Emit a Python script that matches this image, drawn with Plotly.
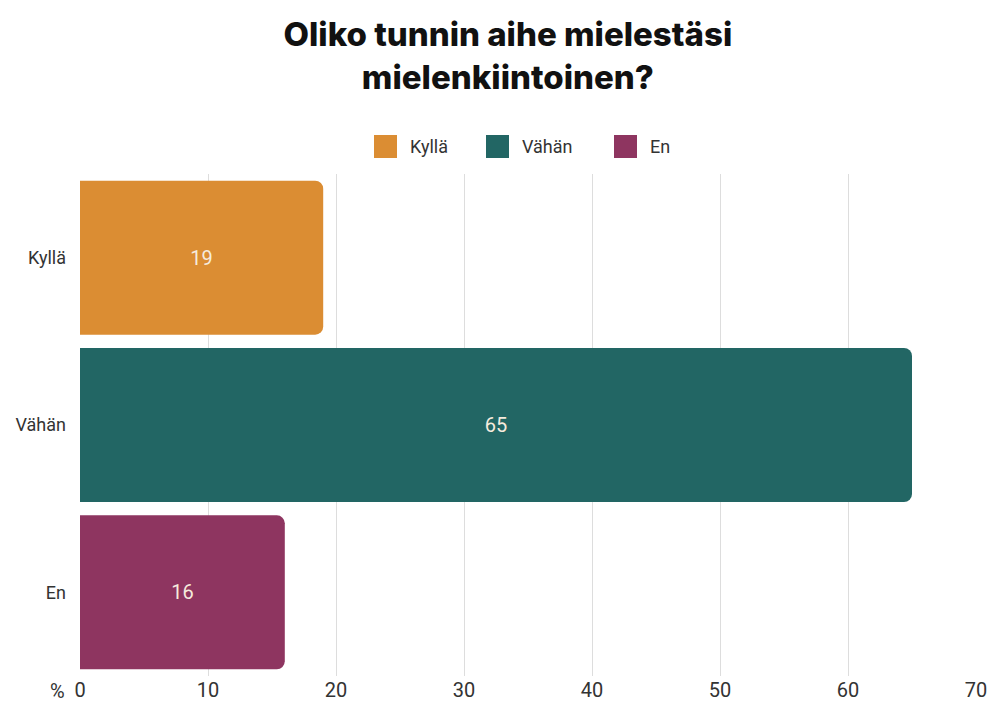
import plotly.graph_objects as go

# ---------- Data ----------
kategoriat = ["Kyllä", "Vähän", "En"]
prosentit = [19, 65, 16]
varit = ["#DB8D33", "#226664", "#8E3560"]
x_tikit = [0, 10, 20, 30, 40, 50, 60, 70]

W, H = 990, 702
L, R, T, B = 80, 14, 174, 26

def px_x(p):
    return (p - L) / (W - L - R)

def px_y(p):
    return (H - B - p) / (H - T - B)

fig = go.Figure()
for nimi, arvo, vari in zip(kategoriat, prosentit, varit):
    fig.add_trace(go.Bar(
        x=[arvo], y=[nimi], orientation="h", name=nimi,
        marker=dict(color=vari, line=dict(width=0)),
        text=[str(arvo)], textposition="inside", insidetextanchor="middle",
        textfont=dict(family="Roboto", size=20, color="#F6EBDD"),
        showlegend=False, hoverinfo="x+y",
    ))

# legend drawn by hand (bigger swatches than plotly's)
swatch_x = [374, 486, 614]
for nimi, vari, sx in zip(kategoriat, varit, swatch_x):
    fig.add_shape(type="rect", xref="paper", yref="paper",
                  x0=px_x(sx), x1=px_x(sx + 23), y0=px_y(158), y1=px_y(135),
                  fillcolor=vari, line=dict(width=0))
    fig.add_annotation(text=nimi, xref="paper", yref="paper",
                       x=px_x(sx + 34), y=px_y(146), xanchor="left", yanchor="middle",
                       showarrow=False, font=dict(family="Roboto", size=18, color="#333"))

fig.add_annotation(text="%", xref="x", yref="paper", x=0, y=0, xanchor="right",
                   yanchor="middle", xshift=-13, yshift=-15, showarrow=False,
                   font=dict(family="Roboto", size=20, color="#333"))

fig.update_layout(
    width=W, height=H,
    margin=dict(l=L, r=R, t=T, b=B),
    paper_bgcolor="white", plot_bgcolor="white",
    barcornerradius=8, bargap=0.08,
    title=dict(text="Oliko tunnin aihe mielestäsi<br>mielenkiintoinen?",
               x=0.513, xanchor="center", y=0.935, yanchor="top",
               font=dict(family="Inter", size=33, color="#111", weight=800)),
    xaxis=dict(range=[0, 70], tickvals=x_tikit, showgrid=True, gridcolor="#DDDDDD",
               gridwidth=1, zeroline=False, showline=False, ticks="",
               tickfont=dict(family="Roboto", size=20, color="#333"), automargin=False),
    yaxis=dict(categoryorder="array", categoryarray=kategoriat, autorange="reversed",
               showgrid=False, zeroline=False, showline=False, ticks="",
               ticklabelstandoff=13,
               tickfont=dict(family="Roboto", size=18, color="#333"), automargin=False),
)

fig.write_html("out.html", config={"displayModeBar": False},
               post_script="document.body.style.margin = '0';")
